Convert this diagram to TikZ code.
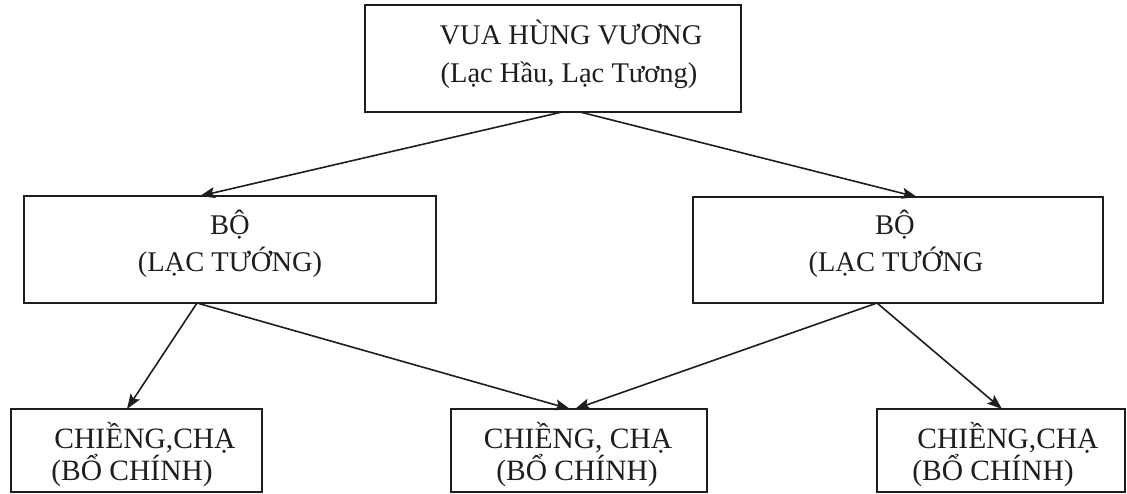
\documentclass[tikz,border=0pt]{standalone}
\usepackage{fontspec}
\setmainfont{Liberation Serif}
\usetikzlibrary{arrows.meta}
\definecolor{ink}{HTML}{1E1E1E}
\tikzset{
  box/.style={draw=ink, line width=1.6pt, inner sep=0pt, outer sep=0pt},
  txt/.style={anchor=base, inner sep=0pt, text=ink, font=\fontsize{28.5}{34}\selectfont},
  txtb/.style={anchor=base, inner sep=0pt, text=ink, font=\fontsize{29.5}{34}\selectfont},
  arr/.style={draw=ink, line width=1.6pt, -{Stealth[length=15pt,width=11pt,inset=3pt]}}
}
\begin{document}
\begin{tikzpicture}[x=1pt,y=-1pt]
\useasboundingbox[fill=white] (0,0) rectangle (1127,494);
% boxes
\node[box, minimum width=376pt, minimum height=107pt] (top) at (553,58.5) {};
\node[box, minimum width=412pt, minimum height=107pt] (bo1) at (230,249.5) {};
\node[box, minimum width=410pt, minimum height=106pt] (bo2) at (898,250) {};
\node[box, minimum width=251pt, minimum height=83pt] (c1) at (136.5,450.5) {};
\node[box, minimum width=256pt, minimum height=83pt] (c2) at (579,450.5) {};
\node[box, minimum width=248pt, minimum height=83pt] (c3) at (1001,450.5) {};
% texts
\node[txt] (topa) at (571,45) {VUA HÙNG VƯƠNG};
\node[txt] (topb) at (569,83) {(Lạc Hầu, Lạc Tương)};
\node[txt] (bo1a) at (230,235) {BỘ};
\node[txt] (bo1b) at (230,272) {(LẠC TƯỚNG)};
\node[txt] (bo2a) at (895,235) {BỘ};
\node[txt] (bo2b) at (896,272) {(LẠC TƯỚNG};
\node[txtb] (c1a) at (145,448) {CHIỀNG,CHẠ};
\node[txtb] (c1b) at (132,480) {(BỔ CHÍNH)};
\node[txtb] (c2a) at (578,448) {CHIỀNG, CHẠ};
\node[txtb] (c2b) at (577,480) {(BỔ CHÍNH)};
\node[txtb] (c3a) at (1008,448) {CHIỀNG,CHẠ};
\node[txtb] (c3b) at (993,480) {(BỔ CHÍNH)};
% arrows
\draw[arr] ([xshift=9pt]top.south) -- ([xshift=-30pt]bo1.north);
\draw[arr] ([xshift=27pt]top.south) -- ([xshift=19pt]bo2.north);
\draw[arr] ([xshift=-33pt]bo1.south) -- ([xshift=-9.5pt]c1.north);
\draw[arr] ([xshift=-33pt]bo1.south) -- ([xshift=-9pt]c2.north);
\draw[arr] ([xshift=-21pt]bo2.south) -- ([xshift=-4pt]c2.north);
\draw[arr] ([xshift=-21pt]bo2.south) -- ([xshift=1pt]c3.north);
\end{tikzpicture}
\end{document}
